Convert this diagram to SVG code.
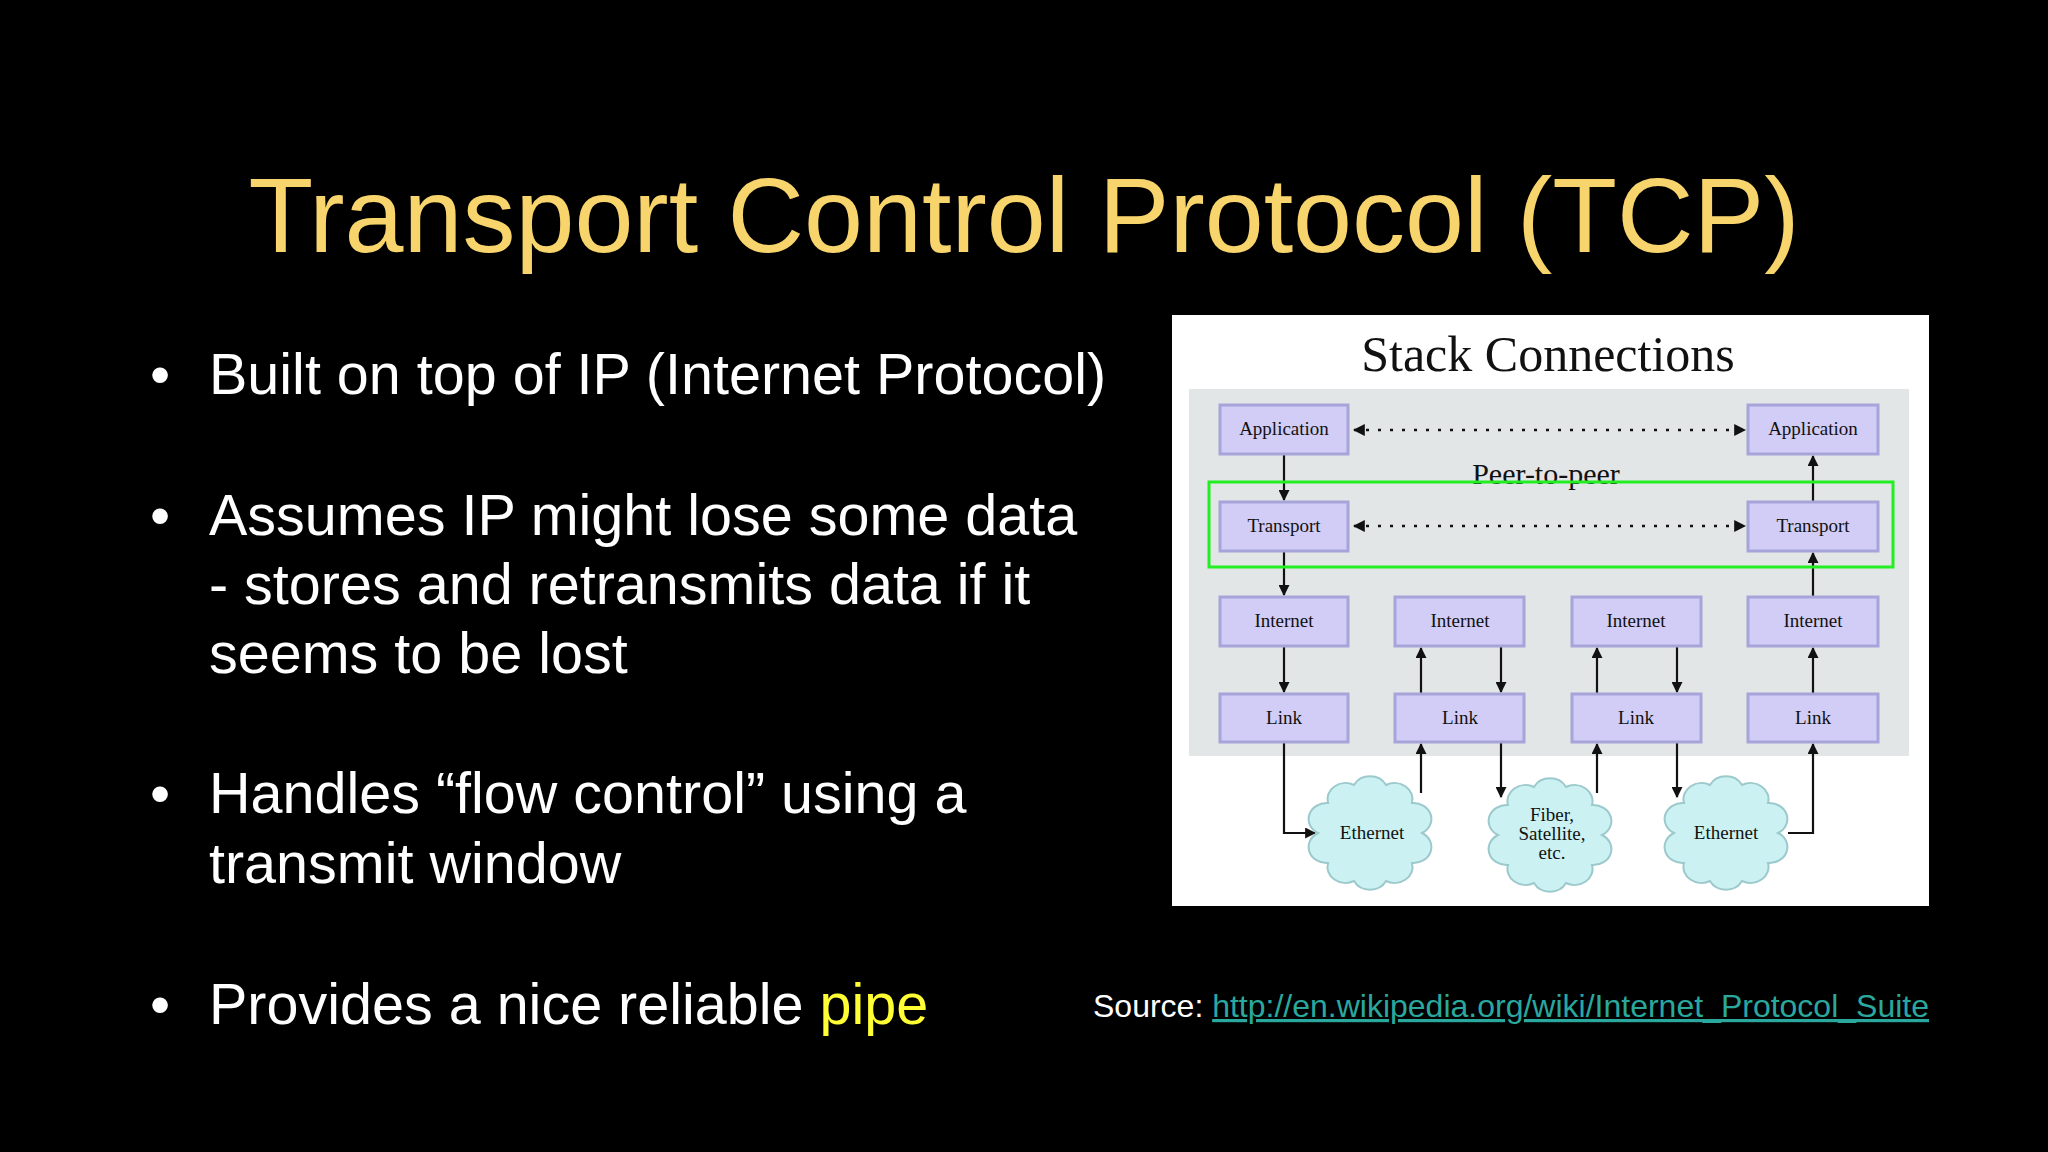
<svg xmlns="http://www.w3.org/2000/svg" width="2048" height="1152" viewBox="0 0 2048 1152">
<style>
.b{font-family:"Liberation Sans",Arial,sans-serif;font-size:57.5px;fill:#fff}
.bx{fill:#d1cdf6;stroke:#a7a4da;stroke-width:3}
.bt{font-family:"Liberation Serif","Times New Roman",serif;font-size:19px;fill:#111;text-anchor:middle}
.ar{stroke:#111;stroke-width:2.2;fill:none;marker-end:url(#ah)}
.da{stroke:#111;stroke-width:2.4;fill:none;stroke-dasharray:3 9;marker-end:url(#ah);marker-start:url(#as)}
.cl{fill:#cbf1f3;stroke:#9cc9cc;stroke-width:2}
</style>
<defs>
<marker id="ah" viewBox="0 0 10 10" refX="9" refY="5" markerWidth="5" markerHeight="5" orient="auto"><path d="M0,0L10,5L0,10z" fill="#111"/></marker>
<marker id="as" viewBox="0 0 10 10" refX="1" refY="5" markerWidth="5" markerHeight="5" orient="auto"><path d="M10,0L0,5L10,10z" fill="#111"/></marker>
<path id="cloud" d="M52,0A18,16 0 0 1 42,30A18,16 0 0 1 16,48A18,16 0 0 1 -16,48A18,16 0 0 1 -42,30A18,16 0 0 1 -52,0A18,16 0 0 1 -42,-30A18,16 0 0 1 -16,-48A18,16 0 0 1 16,-48A18,16 0 0 1 42,-30A18,16 0 0 1 52,0Z"/>
</defs>
<rect width="2048" height="1152" fill="#000"/>
<text x="1024" y="252" font-family="'Liberation Sans',Arial,sans-serif" font-size="106" fill="#f7d46c" text-anchor="middle">Transport Control Protocol (TCP)</text>
<g id="bullets">
<text x="150" y="394" class="b">•</text><text x="209" y="394" class="b">Built on top of IP (Internet Protocol)</text>
<text x="150" y="535" class="b">•</text><text x="209" y="535" class="b">Assumes IP might lose some data</text>
<text x="209" y="604" class="b">- stores and retransmits data if it</text>
<text x="209" y="673" class="b">seems to be lost</text>
<text x="150" y="813" class="b">•</text><text x="209" y="813" class="b">Handles “flow control” using a</text>
<text x="209" y="883" class="b">transmit window</text>
<text x="150" y="1024" class="b">•</text><text x="209" y="1024" class="b">Provides a nice reliable <tspan fill="#ffff33">pipe</tspan></text>
</g>
<text x="1929" y="1017" text-anchor="end" font-family="'Liberation Sans',Arial,sans-serif" font-size="32" fill="#fff">Source: <tspan fill="#2aa89e" text-decoration="underline">http://en.wikipedia.org/wiki/Internet_Protocol_Suite</tspan></text>
<g id="panel">
<rect x="1172" y="315" width="757" height="591" fill="#fff"/>
<rect x="1189" y="389" width="720" height="367" fill="#e3e6e6"/>
<text x="1548" y="371" text-anchor="middle" font-family="'Liberation Serif','Times New Roman',serif" font-size="50" fill="#111">Stack Connections</text>
<text x="1546" y="484" text-anchor="middle" font-family="'Liberation Serif','Times New Roman',serif" font-size="30" fill="#111">Peer-to-peer</text>
</g>
<g id="connectors">
<path class="da" d="M1354,430H1745"/>
<path class="da" d="M1354,526H1745"/>
<path class="ar" d="M1284,454V500"/>
<path class="ar" d="M1284,551V595"/>
<path class="ar" d="M1284,646V692"/>
<path class="ar" d="M1284,742V833H1315"/>
<path class="ar" d="M1813,502V456"/>
<path class="ar" d="M1813,597V553"/>
<path class="ar" d="M1813,694V648"/>
<path class="ar" d="M1788,833H1813V744"/>
<path class="ar" d="M1421,694V648"/><path class="ar" d="M1501,646V692"/>
<path class="ar" d="M1597,694V648"/><path class="ar" d="M1677,646V692"/>
<path class="ar" d="M1421,793V744"/><path class="ar" d="M1501,742V797"/>
<path class="ar" d="M1597,793V744"/><path class="ar" d="M1677,742V797"/>
</g>
<g id="green"><rect x="1209" y="482" width="684" height="85" fill="none" stroke="#22ee22" stroke-width="3"/></g>
<g id="a1"><rect class="bx" x="1220" y="405" width="128" height="49"/><text class="bt" x="1284" y="435">Application</text></g>
<g id="a2"><rect class="bx" x="1748" y="405" width="130" height="49"/><text class="bt" x="1813" y="435">Application</text></g>
<g id="t1"><rect class="bx" x="1220" y="502" width="128" height="49"/><text class="bt" x="1284" y="532">Transport</text></g>
<g id="t2"><rect class="bx" x="1748" y="502" width="130" height="49"/><text class="bt" x="1813" y="532">Transport</text></g>
<g id="i1"><rect class="bx" x="1220" y="597" width="128" height="49"/><text class="bt" x="1284" y="627">Internet</text></g>
<g id="i2"><rect class="bx" x="1395" y="597" width="129" height="49"/><text class="bt" x="1460" y="627">Internet</text></g>
<g id="i3"><rect class="bx" x="1572" y="597" width="129" height="49"/><text class="bt" x="1636" y="627">Internet</text></g>
<g id="i4"><rect class="bx" x="1748" y="597" width="130" height="49"/><text class="bt" x="1813" y="627">Internet</text></g>
<g id="l1"><rect class="bx" x="1220" y="694" width="128" height="48"/><text class="bt" x="1284" y="724">Link</text></g>
<g id="l2"><rect class="bx" x="1395" y="694" width="129" height="48"/><text class="bt" x="1460" y="724">Link</text></g>
<g id="l3"><rect class="bx" x="1572" y="694" width="129" height="48"/><text class="bt" x="1636" y="724">Link</text></g>
<g id="l4"><rect class="bx" x="1748" y="694" width="130" height="48"/><text class="bt" x="1813" y="724">Link</text></g>
<g id="c1"><use href="#cloud" class="cl" transform="translate(1370,833)"/><text class="bt" x="1372" y="839">Ethernet</text></g>
<g id="c2"><use href="#cloud" class="cl" transform="translate(1550,835)"/><text class="bt" x="1552" y="821" font-size="17">Fiber,</text><text class="bt" x="1552" y="840" font-size="17">Satellite,</text><text class="bt" x="1552" y="859" font-size="17">etc.</text></g>
<g id="c3"><use href="#cloud" class="cl" transform="translate(1726,833)"/><text class="bt" x="1726" y="839">Ethernet</text></g>
</svg>
